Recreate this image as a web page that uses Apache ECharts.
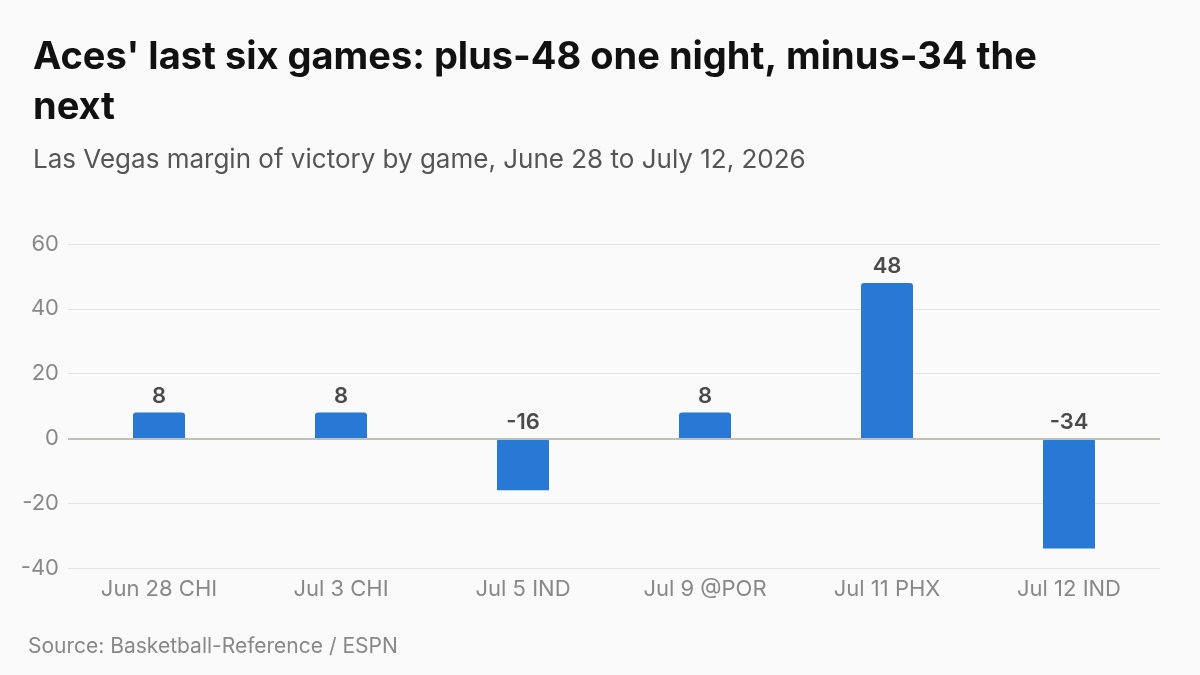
<!DOCTYPE html>
<html>
<head>
<meta charset="utf-8">
<script src="https://cdn.jsdelivr.net/npm/echarts@6/dist/echarts.min.js"></script>
<style>
  html, body { margin: 0; padding: 0; background: #fafafa; }
  #chart { width: 1200px; height: 675px; }
</style>
</head>
<body>
<div id="chart"></div>
<script>
const games = ['Jun 28 CHI', 'Jul 3 CHI', 'Jul 5 IND', 'Jul 9 @POR', 'Jul 11 PHX', 'Jul 12 IND'];
const margins = [8, 8, -16, 8, 48, -34];
const yMin = -40;
const yMax = 60;
const yStep = 20;

const font = 'Inter, "Noto Sans", sans-serif';
const chart = echarts.init(document.getElementById('chart'));

chart.setOption({
  backgroundColor: '#fafafa',
  textStyle: { fontFamily: font },
  title: [
    {
      text: "Aces' last six games: plus-48 one night, minus-34 the\nnext",
      left: 28,
      top: 28,
      textStyle: { fontSize: 38, fontWeight: 'bold', color: '#111', lineHeight: 50, fontFamily: font },
    },
    {
      text: 'Las Vegas margin of victory by game, June 28 to July 12, 2026',
      left: 28,
      top: 142,
      textStyle: { fontSize: 26, fontWeight: 'normal', color: '#555', fontFamily: font },
    },
    {
      text: 'Source: Basketball-Reference / ESPN',
      left: 23,
      top: 631,
      textStyle: { fontSize: 21, fontWeight: 'normal', color: '#888', fontFamily: font },
    },
  ],
  grid: { left: 68, right: 40, top: 244, bottom: 107, containLabel: false },
  xAxis: {
    type: 'category',
    data: games,
    axisLine: { show: false },
    axisTick: { show: false },
    axisLabel: { color: '#888', fontSize: 22, margin: 10, fontFamily: font },
  },
  yAxis: {
    type: 'value',
    min: yMin,
    max: yMax,
    interval: yStep,
    axisLine: { show: false },
    axisTick: { show: false },
    axisLabel: { color: '#888', fontSize: 22, margin: 9, fontFamily: font },
    splitLine: { lineStyle: { color: '#e4e4e4', width: 1 } },
  },
  series: [
    {
      type: 'bar',
      data: margins,
      barWidth: 52,
      itemStyle: { color: '#2878d6', borderRadius: [3, 3, 0, 0] },
      label: {
        show: true,
        position: 'top',
        distance: 5,
        color: '#4a4a4a',
        fontSize: 22,
        fontWeight: 600,
        fontFamily: font,
      },
      markLine: {
        silent: true,
        symbol: 'none',
        label: { show: false },
        lineStyle: { color: '#c0c0b6', width: 2, type: 'solid' },
        data: [{ yAxis: 0 }],
      },
    },
  ],
});
</script>
</body>
</html>
